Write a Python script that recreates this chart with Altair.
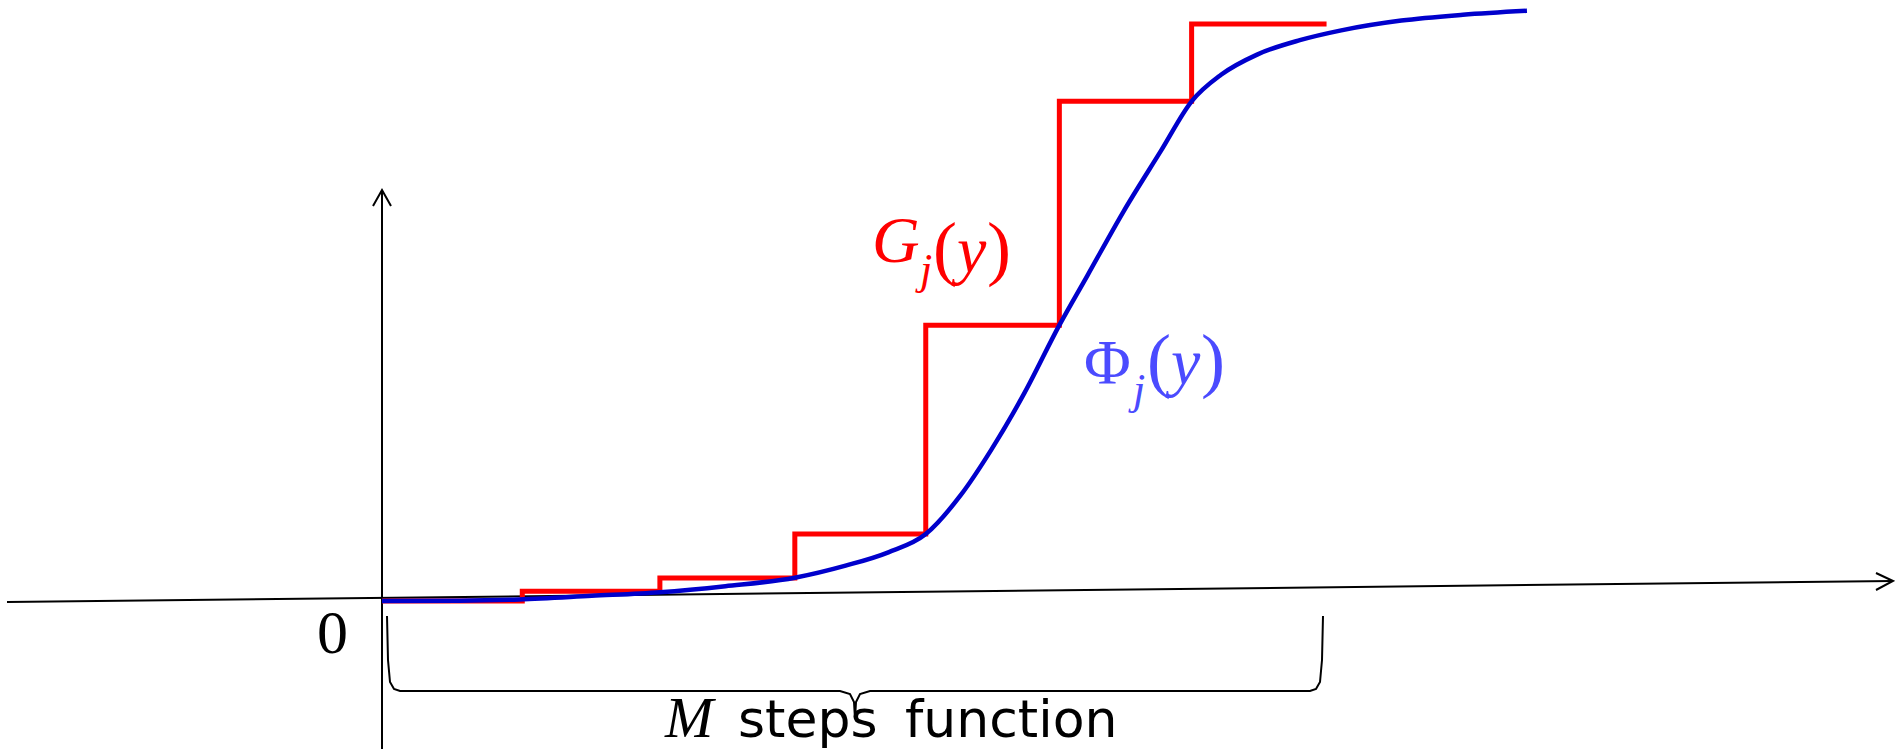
import altair as alt
import pandas as pd

# ---- data (conceptual units: u = step index along the y-variable, p = cumulative level) ----
step_starts = [0.0, 1.05, 2.08, 3.09, 4.07, 5.07, 6.06]
step_ends = [1.01, 2.08, 3.09, 4.07, 5.07, 6.06, 7.07]
step_levels = [0.0, 0.017, 0.040, 0.116, 0.478, 0.866, 1.0]

phi_u = [0.0, 0.58, 1.03, 1.57, 2.08, 2.57, 3.09, 3.47, 3.79, 4.07, 4.33, 4.56, 4.81, 5.07,
         5.28, 5.55, 5.83, 6.06, 6.28, 6.55, 6.87, 7.18, 7.63, 8.09, 8.57]
phi_p = [0.0, 0.0005, 0.0026, 0.0089, 0.0152, 0.0257, 0.0404, 0.0613, 0.0844, 0.116, 0.183,
         0.262, 0.361, 0.478, 0.564, 0.675, 0.780, 0.866, 0.912, 0.947, 0.972, 0.989, 1.006,
         1.016, 1.023]

W, H = 1895, 749
X0, XS = 382, 133.6      # pixel of u=0, pixels per unit
Y0, YS = 601, 577        # pixel of p=0, pixels per unit
xdom = [-X0 / XS, (W - X0) / XS]
ydom = [(Y0 - H) / YS, Y0 / YS]
xs = alt.Scale(domain=xdom, range=[0, W], nice=False, zero=False)
ys = alt.Scale(domain=ydom, range=[H, 0], nice=False, zero=False)


def px_u(px):
    return (px - X0) / XS


def px_p(py):
    return (Y0 - py) / YS


def enc(extra=None):
    e = dict(x=alt.X("u:Q", scale=xs, axis=None), y=alt.Y("p:Q", scale=ys, axis=None))
    if extra:
        e.update(extra)
    return e


# step polyline
pts = []
for i, lv in enumerate(step_levels):
    if i > 0:
        pts.append((step_starts[i], step_levels[i - 1]))
    pts.append((step_starts[i], lv))
    pts.append((step_ends[i], lv))
steps_df = pd.DataFrame({"u": [a for a, b in pts], "p": [b for a, b in pts], "o": range(len(pts))})
phi_df = pd.DataFrame({"u": phi_u, "p": phi_p, "o": range(len(phi_u))})

# axes (diagram arrows)
haxis = pd.DataFrame({"u": [px_u(7), px_u(1893)], "p": [px_p(602), px_p(581)], "o": [0, 1]})
harrow = pd.DataFrame({"u": [px_u(1876), px_u(1893), px_u(1876)], "p": [px_p(573), px_p(581), px_p(590)], "o": [0, 1, 2]})
vaxis = pd.DataFrame({"u": [0, 0], "p": [px_p(749), px_p(190)], "o": [0, 1]})
varrow = pd.DataFrame({"u": [px_u(373), 0, px_u(391)], "p": [px_p(206), px_p(190), px_p(206)], "o": [0, 1, 2]})

# brace
bx = [387, 388, 390, 394, 400, 840, 850, 854, 855, 856, 860, 870, 1310, 1316, 1320, 1322, 1323]
by = [616, 660, 682, 689, 691, 691, 694, 702, 719, 702, 694, 691, 691, 689, 682, 660, 616]
brace = pd.DataFrame({"u": [px_u(v) for v in bx], "p": [px_p(v) for v in by], "o": range(len(bx))})


def line(df, color, width):
    return alt.Chart(df).mark_line(color=color, strokeWidth=width, strokeCap="butt").encode(
        **enc({"order": alt.Order("o:Q")})
    )


def txt(text, x, y, size, color="black", italic=False, font="Liberation Serif"):
    df = pd.DataFrame({"u": [px_u(x)], "p": [px_p(y)], "t": [text]})
    return alt.Chart(df).mark_text(
        align="left", baseline="alphabetic", fontSize=size, color=color,
        font=font, fontStyle="italic" if italic else "normal",
    ).encode(**enc({"text": alt.Text("t:N")}))


red = "#FF0000"
blue = "#0000CC"
lblue = "#4B4BFF"

layers = [
    line(haxis, "black", 2), line(harrow, "black", 2),
    line(vaxis, "black", 2), line(varrow, "black", 2),
    line(brace, "black", 2),
    line(steps_df, red, 5),
    alt.Chart(phi_df).mark_line(color=blue, strokeWidth=4.5, interpolate="monotone").encode(**enc({"order": alt.Order("o:Q")})),
    txt("0", 317, 653, 62),
    txt("G", 872, 262, 66, red, True),
    txt("j", 920, 284, 44, red, True),
    txt("(", 933, 272, 72, red),
    txt("y", 957, 272, 66, red, True),
    txt(")", 987, 272, 72, red),
    txt("Φ", 1084, 384, 64, lblue),
    txt("j", 1133, 404, 44, lblue, True),
    txt("(", 1147, 384, 72, lblue),
    txt("y", 1171, 384, 66, lblue, True),
    txt(")", 1201, 384, 72, lblue),
    txt("M", 665, 737, 58, "black", True),
    txt("steps", 738, 737, 52, "black", False, "DejaVu Sans"),
    txt("function", 905, 737, 52, "black", False, "DejaVu Sans"),
]

chart = alt.layer(*layers).properties(
    width=W, height=H, padding=0, autosize=alt.AutoSizeParams(type="none")
).configure_view(stroke=None)

chart.save("out.html", embed_options={"renderer": "svg", "actions": False})
